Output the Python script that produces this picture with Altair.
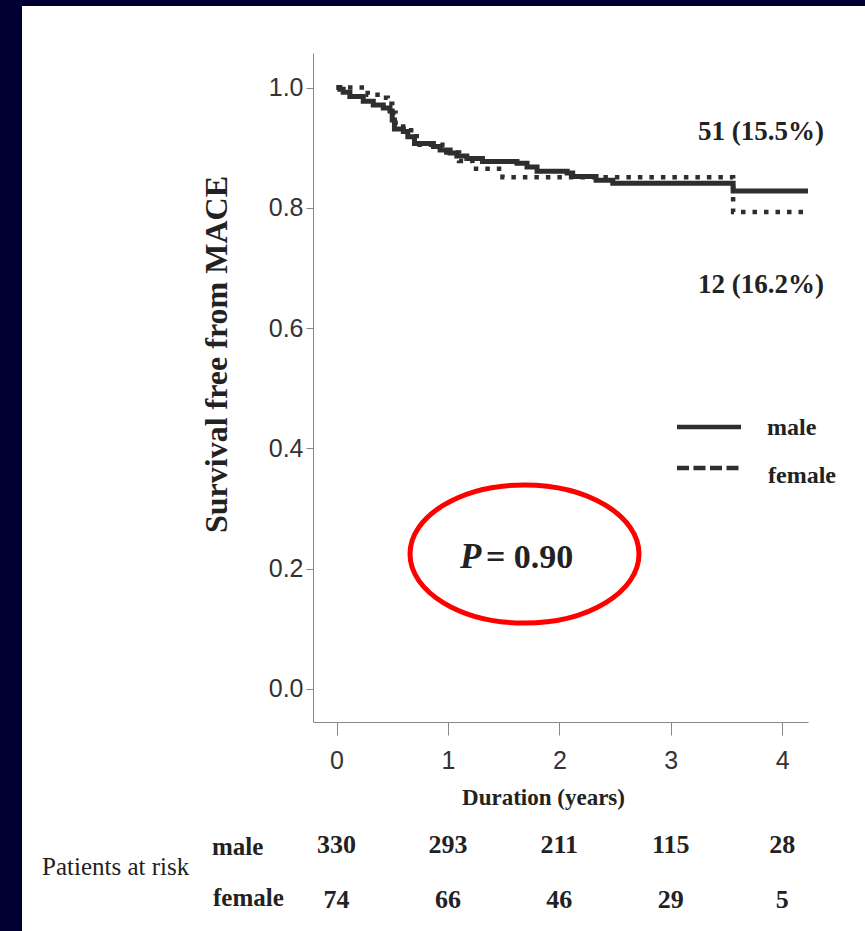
import altair as alt
import pandas as pd

# ---- data ----
male_t = [0, 0.03, 0.06, 0.12, 0.24, 0.33, 0.42, 0.48, 0.50, 0.52, 0.60, 0.64, 0.70, 0.87, 0.93,
          1.02, 1.08, 1.17, 1.31, 1.62, 1.71, 1.80, 2.07, 2.12, 2.33, 2.48, 3.56, 4.232]
male_s = [1.0, 0.997, 0.992, 0.985, 0.977, 0.971, 0.966, 0.961, 0.946, 0.931, 0.927, 0.918, 0.907, 0.902, 0.896,
          0.891, 0.886, 0.882, 0.877, 0.874, 0.868, 0.861, 0.858, 0.852, 0.846, 0.841, 0.828, 0.828]
female_t = [0, 0.28, 0.40, 0.46, 0.50, 0.53, 0.67, 0.72, 0.95, 1.10, 1.22, 1.49, 3.56, 4.232]
female_s = [1.0, 0.988, 0.983, 0.973, 0.958, 0.935, 0.919, 0.905, 0.892, 0.878, 0.865, 0.851, 0.793, 0.793]

risk_years = [0, 1, 2, 3, 4]
risk_male = [330, 293, 211, 115, 28]
risk_female = [74, 66, 46, 29, 5]

x_ticks = [0, 1, 2, 3, 4]
y_ticks = [0.0, 0.2, 0.4, 0.6, 0.8, 1.0]

W, H = 495, 669
PAD_L, PAD_T = 313, 53
SERIF = "Liberation Serif, Times New Roman, serif"
NARROW = "Liberation Sans Narrow, Arial Narrow, Liberation Sans, sans-serif"
INK = "#222222"
CURVE = "#2e2e2e"

curves = pd.DataFrame(
    [{"t": t, "s": s, "g": "male"} for t, s in zip(male_t, male_s)]
    + [{"t": t, "s": s, "g": "female"} for t, s in zip(female_t, female_s)]
)
risk = pd.DataFrame({"t": risk_years, "male": risk_male, "female": risk_female})

xs = alt.Scale(domain=[-0.211, 4.232], nice=False, zero=False)
ys = alt.Scale(domain=[-0.0549, 1.0574], nice=False, zero=False)

xaxis = alt.Axis(values=x_ticks, format="d", title="Duration (years)", grid=False, zindex=2,
                 tickSize=13, labelPadding=13, labelFontSize=25, labelFont=NARROW,
                 labelColor="#333333", tickColor="#888888", domainColor="#888888",
                 titleFont=SERIF, titleFontSize=23, titleFontWeight="bold", titleColor=INK,
                 titleX=230, titleY=82, titleBaseline="alphabetic", titleAlign="center")
yaxis = alt.Axis(values=y_ticks, format=".1f", title="Survival free from MACE", grid=False, zindex=2,
                 tickSize=7, labelPadding=3, labelFontSize=25, labelFont=NARROW,
                 labelColor="#333333", tickColor="#888888", domainColor="#888888",
                 titleFont=SERIF, titleFontSize=32, titleFontWeight="bold", titleColor=INK,
                 titleX=-97, titleY=301, titleBaseline="middle", titleAlign="center", titleAngle=-90)

base = alt.Chart(curves)

# white panel
panel = alt.Chart(pd.DataFrame({"a": [0]})).mark_rect(color="white").encode(
    x=alt.value(22 - PAD_L), x2=alt.value(865 - PAD_L),
    y=alt.value(6 - PAD_T), y2=alt.value(931 - PAD_T))

male_line = base.transform_filter(alt.datum.g == "male").mark_line(
    interpolate="step-after", color=CURVE, strokeWidth=5, clip=False).encode(
    x=alt.X("t:Q", scale=xs, axis=xaxis),
    y=alt.Y("s:Q", scale=ys, axis=yaxis))

female_line = base.transform_filter(alt.datum.g == "female").mark_line(
    interpolate="step-after", color=CURVE, strokeWidth=4.5, strokeDash=[4.5, 7],
    strokeCap="butt", clip=False).encode(
    x=alt.X("t:Q", scale=xs), y=alt.Y("s:Q", scale=ys))

one = pd.DataFrame({"a": [0]})

def txt(text, x, y, size, weight="bold", style="normal", align="left", baseline="alphabetic", font=SERIF):
    return alt.Chart(one).mark_text(text=text, font=font, fontSize=size, fontWeight=weight,
                                    fontStyle=style, align=align, baseline=baseline,
                                    color=INK).encode(x=alt.value(x - PAD_L), y=alt.value(y - PAD_T))

# annotations
ann = [
    txt("51 (15.5%)", 698, 140, 27),
    txt("12 (16.2%)", 698, 293, 27),
    txt("P", 460, 568, 35, style="italic"),
    txt("= 0.90", 486, 568, 34),
    txt("male", 767, 435, 24),
    txt("female", 768, 483, 24),
    txt("Patients at risk", 42, 875, 25, weight="normal"),
    txt("male", 212, 855, 25),
    txt("female", 213, 906, 25),
]

ellipse = alt.Chart(one).mark_point(
    shape="M -1 0 A 1 0.603 0 1 1 1 0 A 1 0.603 0 1 1 -1 0 Z",
    size=229 ** 2, stroke="#ff0000", strokeWidth=5, filled=False, opacity=1).encode(
    x=alt.value(524.5 - PAD_L), y=alt.value(554 - PAD_T))

leg_male = alt.Chart(one).mark_rule(color=CURVE, strokeWidth=4.5).encode(
    x=alt.value(677 - PAD_L), x2=alt.value(741 - PAD_L), y=alt.value(427 - PAD_T))
leg_female = alt.Chart(one).mark_rule(color=CURVE, strokeWidth=4.5, strokeDash=[12, 4.5]).encode(
    x=alt.value(677 - PAD_L), x2=alt.value(741 - PAD_L), y=alt.value(468 - PAD_T))

risk_m = alt.Chart(risk).mark_text(font=SERIF, fontSize=26, fontWeight="bold", color=INK,
                                    align="center", baseline="alphabetic").encode(
    x=alt.X("t:Q", scale=xs), y=alt.value(853 - PAD_T), text=alt.Text("male:Q"))
risk_f = alt.Chart(risk).mark_text(font=SERIF, fontSize=26, fontWeight="bold", color=INK,
                                    align="center", baseline="alphabetic").encode(
    x=alt.X("t:Q", scale=xs), y=alt.value(908 - PAD_T), text=alt.Text("female:Q"))

chart = alt.layer(panel, male_line, female_line, ellipse, leg_male, leg_female,
                  risk_m, risk_f, *ann).properties(
    width=W, height=H,
    padding={"left": PAD_L, "top": PAD_T, "right": 865 - PAD_L - W, "bottom": 931 - PAD_T - H},
    autosize=alt.AutoSizeParams(type="none"),
).configure(background="#000033").configure_view(stroke=None)

chart.save("out.html", embed_options={"renderer": "svg", "actions": False})
